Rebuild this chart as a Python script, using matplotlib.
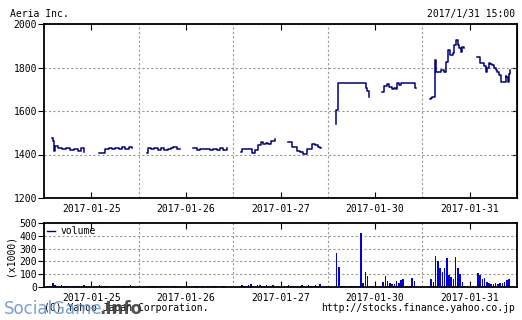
import numpy as np
import matplotlib
matplotlib.use("Agg")
import matplotlib.pyplot as plt

plt.rcParams["font.family"] = "DejaVu Sans Mono"
plt.rcParams["font.size"] = 7

days = ["2017-01-25", "2017-01-26", "2017-01-27", "2017-01-30", "2017-01-31"]

# price, one list of (time, price) per session: [morning, afternoon] per day
d1_am = [("09:00", 1478), ("09:04", 1460), ("09:09", 1416), ("09:13", 1440), ("09:27", 1432),
         ("09:45", 1425), ("10:03", 1428), ("10:21", 1422), ("10:39", 1425), ("10:57", 1418),
         ("11:10", 1428), ("11:24", 1413)]
d1_pm = [("12:30", 1405), ("12:45", 1408), ("13:00", 1425), ("13:15", 1430), ("13:30", 1426),
         ("13:45", 1432), ("14:00", 1425), ("14:15", 1433), ("14:30", 1427), ("14:45", 1435),
         ("15:00", 1428)]
d2_am = [("09:00", 1405), ("09:05", 1428), ("09:20", 1425), ("09:35", 1430), ("09:50", 1422),
         ("10:05", 1432), ("10:20", 1420), ("10:35", 1425), ("10:50", 1428), ("11:00", 1435),
         ("11:15", 1425), ("11:30", 1425)]
d2_pm = [("12:30", 1428), ("12:45", 1422), ("13:00", 1425), ("13:15", 1423), ("13:30", 1426),
         ("13:45", 1420), ("14:00", 1425), ("14:15", 1422), ("14:30", 1428), ("14:45", 1420),
         ("15:00", 1428)]
d3_am = [("09:00", 1413), ("09:05", 1424), ("09:15", 1426), ("09:30", 1424), ("09:45", 1424),
         ("09:50", 1407), ("10:00", 1420), ("10:15", 1444), ("10:30", 1459), ("10:40", 1450),
         ("10:50", 1455), ("11:00", 1448), ("11:15", 1462), ("11:30", 1470)]
d3_pm = [("12:30", 1459), ("12:48", 1433), ("13:10", 1418), ("13:25", 1410), ("13:40", 1402),
         ("13:57", 1424), ("14:18", 1450), ("14:33", 1444), ("14:46", 1435), ("14:55", 1429),
         ("15:00", 1432)]
d4_am = [("09:00", 1540), ("09:03", 1605), ("09:08", 1643), ("09:12", 1727), ("11:10", 1727),
         ("11:15", 1705), ("11:20", 1690), ("11:30", 1666)]
d4_pm = [("12:30", 1689), ("12:37", 1715), ("12:52", 1722), ("13:00", 1710), ("13:07", 1712),
         ("13:15", 1700), ("13:22", 1705), ("13:30", 1700), ("13:37", 1727), ("13:45", 1718),
         ("13:52", 1727), ("14:52", 1727), ("14:57", 1705), ("15:00", 1705)]
d5_am = [("09:00", 1655), ("09:03", 1660), ("09:06", 1665), ("09:20", 1670), ("09:21", 1834),
         ("09:23", 1781), ("09:48", 1790), ("09:59", 1781), ("10:10", 1827), ("10:17", 1880),
         ("10:29", 1857), ("10:40", 1865), ("10:47", 1903), ("10:54", 1926), ("11:02", 1903),
         ("11:09", 1888), ("11:17", 1872), ("11:23", 1895), ("11:30", 1888)]
d5_pm = [("12:30", 1850), ("12:42", 1819), ("12:53", 1819), ("13:00", 1805), ("13:08", 1781),
         ("13:15", 1800), ("13:23", 1819), ("13:30", 1815), ("13:38", 1811), ("13:45", 1800),
         ("13:53", 1790), ("14:00", 1780), ("14:08", 1766), ("14:18", 1735), ("14:30", 1735),
         ("14:38", 1760), ("14:42", 1758), ("14:48", 1735), ("14:54", 1770), ("15:00", 1790)]
sessions = [[d1_am, d1_pm], [d2_am, d2_pm], [d3_am, d3_pm], [d4_am, d4_pm], [d5_am, d5_pm]]

# volume (x1000), 10 minute bins, 09:00-11:30 and 12:30-15:00
vol_am_start = "09:00"
vol_pm_start = "12:30"
volume = [
    [[35, 15, 10, 8, 12, 6, 8, 10, 5, 8, 6, 10, 5, 8, 12],
     [15, 6, 8, 5, 10, 6, 5, 8, 6, 5, 8, 5, 6, 10, 12]],
    [[10, 5, 6, 8, 5, 4, 6, 5, 8, 4, 5, 6, 4, 5, 8],
     [6, 4, 5, 4, 6, 3, 5, 4, 6, 4, 5, 3, 5, 4, 10]],
    [[15, 10, 8, 12, 20, 10, 8, 15, 12, 10, 8, 12, 10, 8, 15],
     [12, 8, 6, 10, 8, 6, 12, 10, 8, 12, 10, 8, 15, 10, 20]],
    [[263, 159, 10, 5, 4, 3, 5, 4, 6, 5, 8, 420, 30, 120, 87],
     [40, 87, 50, 30, 25, 20, 45, 35, 55, 60, 10, 5, 5, 70, 50]],
    [[60, 40, 242, 200, 150, 120, 150, 224, 90, 80, 60, 232, 150, 100, 40],
     [107, 90, 60, 70, 40, 30, 25, 20, 30, 25, 35, 30, 40, 55, 60]],
]


def to_x(day, t):
    h, m = t.split(":")
    mins = int(h) * 60 + int(m) - 540
    return day + (8 + mins * 80 / 360) / 94.6


fig = plt.figure(figsize=(5.22, 3.2), dpi=100)
ax = fig.add_axes([44 / 522, 1 - 198 / 320, 473 / 522, 174 / 320])
axv = fig.add_axes([44 / 522, 1 - 287 / 320, 473 / 522, 64 / 320])

for d, day in enumerate(sessions):
    for s in day:
        xs = [to_x(d, t) for t, p in s]
        ys = [p for t, p in s]
        ax.step(xs, ys, where="post", color="#000080", lw=1.1)

bw = 10 * 80 / 360 / 94.6
for d, day in enumerate(volume):
    for k, start in enumerate([vol_am_start, vol_pm_start]):
        x0 = to_x(d, start)
        xs = [x0 + i * bw for i in range(len(day[k]))]
        axv.bar(xs, day[k], width=bw * 0.7, align="edge", color="#0000dd", lw=0)
axv.plot([], [], color="#000080", lw=1, label="volume")

centers = [i + 0.5 for i in range(5)]
bounds = [1, 2, 3, 4]
for a in (ax, axv):
    a.set_xlim(0, 5)
    a.set_xticks(centers)
    a.set_xticklabels(days)
    a.set_xticks(bounds, minor=True)
    a.tick_params(axis="x", which="major", direction="in", top=True, length=4, pad=4)
    a.tick_params(axis="x", which="minor", length=0)
    a.tick_params(axis="y", direction="out", right=False, length=4, pad=1)
    a.grid(True, which="minor", axis="x", color="#999999", ls=(0, (2, 2)), lw=0.8)
    a.grid(True, which="major", axis="y", color="#999999", ls=(0, (2, 2)), lw=0.8)
    for sp in a.spines.values():
        sp.set_linewidth(1.3)
    a.set_axisbelow(True)

ax.set_ylim(1200, 2000)
ax.set_yticks([1200, 1400, 1600, 1800, 2000])
ax2 = ax.secondary_yaxis("right")
ax2.set_yticks([1400, 1600, 1800])
ax2.tick_params(direction="in", length=4, labelright=False)

axv.set_ylim(0, 500)
axv.set_yticks([0, 100, 200, 300, 400, 500])
axv.set_ylabel("(x1000)", labelpad=3)
axv.legend(loc="upper left", frameon=False, handlelength=0.8, handletextpad=0.6,
           borderaxespad=0.1, borderpad=0.2, fontsize=7)

fig.text(10 / 522, 1 - 14 / 320, "Aeria Inc.", ha="left", va="center")
fig.text(515 / 522, 1 - 14 / 320, "2017/1/31 15:00", ha="right", va="center")
fig.text(44 / 522, 1 - 308 / 320, "(C) Yahoo Japan Corporation.", ha="left", va="center")
fig.text(515 / 522, 1 - 308 / 320, "http://stocks.finance.yahoo.co.jp", ha="right", va="center")
fig.text(4 / 522, 1 - 309 / 320, "SocialGame", ha="left", va="center", family="DejaVu Sans",
         fontsize=12, color="#5b8fd0", alpha=0.85)
fig.text(99 / 522, 1 - 309 / 320, ".Info", ha="left", va="center", family="DejaVu Sans",
         fontsize=12, fontweight="bold", color="#333333", alpha=0.85)

fig.savefig("out.png", dpi=100)
